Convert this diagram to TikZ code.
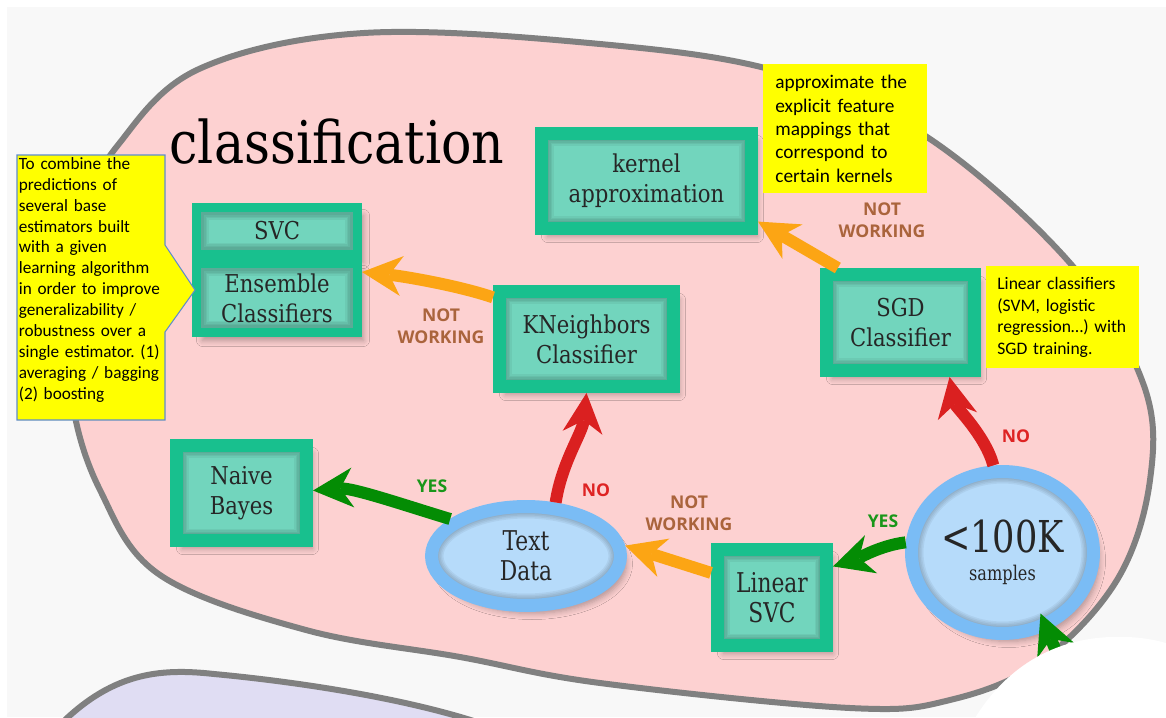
\documentclass[tikz,border=0pt]{standalone}
\usepackage{fontspec}
\newfontfamily\boxfont[FakeStretch=0.86]{DejaVu Serif}
\newfontfamily\ovalfont[FakeStretch=0.8]{DejaVu Serif}
\newfontfamily\notefont{Carlito}
\newfontfamily\tagfont{Open Sans}
\usetikzlibrary{arrows.meta, shapes.geometric, shadows.blur, calc}
\frenchspacing

\definecolor{backdrop}{RGB}{248,248,248}
\definecolor{pinkzone}{RGB}{253,209,209}
\definecolor{lilaczone}{RGB}{224,221,243}
\definecolor{blobgray}{RGB}{128,128,128}
\definecolor{boxedge}{RGB}{24,192,142}
\definecolor{boxfill}{RGB}{114,213,189}
\definecolor{ovaledge}{RGB}{122,188,245}
\definecolor{ovalfill}{RGB}{182,219,250}
\definecolor{noteyellow}{RGB}{255,255,0}
\definecolor{calloutedge}{RGB}{95,140,205}
\definecolor{floworange}{RGB}{252,165,20}
\definecolor{flowred}{RGB}{218,32,32}
\definecolor{flowgreen}{RGB}{4,140,4}
\definecolor{tagbrown}{RGB}{170,100,60}
\definecolor{tagred}{RGB}{222,35,35}
\definecolor{taggreen}{RGB}{25,150,25}

\tikzset{
  blobline/.style={draw=blobgray, line width=0.12cm},
  softshadow/.style={blur shadow={shadow xshift=0.12cm, shadow yshift=-0.16cm, shadow opacity=30,
      shadow blur steps=6, shadow blur radius=0.12cm}},
  boxshade/.style={path picture={\foreach \w in {0.30,0.36,0.42,0.48}
      \draw[black, opacity=0.05, line width=\w cm]
      (path picture bounding box.south west) rectangle (path picture bounding box.north east);}},
  ovalshade/.style={path picture={\foreach \w in {0.30,0.36,0.42,0.48}
      \draw[black, opacity=0.05, line width=\w cm]
      let \p1=($(path picture bounding box.north east)-(path picture bounding box.center)$) in
      (path picture bounding box.center) ellipse [x radius=\x1, y radius=\y1];}},
  algobox/.style={draw=boxedge, fill=boxfill, line width=0.26cm, inner sep=0pt, align=center,
    text=black!85, font=\boxfont\fontsize{14}{17}\selectfont, softshadow, boxshade},
  stackbox/.style={algobox, line width=0.18cm},
  ovalnode/.style={ellipse, draw=ovaledge, fill=ovalfill, line width=0.26cm, inner sep=0pt, align=center,
    text=black!85, font=\ovalfont\fontsize{15.5}{17}\selectfont, softshadow, ovalshade},
  notebox/.style={fill=noteyellow, anchor=north west, align=left, inner ysep=0pt},
  tag/.style={font=\tagfont\bfseries\fontsize{10}{12.5}\selectfont, align=center, inner sep=0pt},
  failtag/.style={tag, text=tagbrown},
  notag/.style={tag, text=tagred},
  yestag/.style={tag, text=taggreen},
  flow/.style={line width=0.24cm, -{Stealth[length=0.8cm, width=0.8cm, inset=0.25cm, line width=0pt]}},
  failflow/.style={flow, draw=floworange},
  noflow/.style={flow, draw=flowred},
  yesflow/.style={flow, draw=flowgreen}
}

\begin{document}
\begin{tikzpicture}[x=0.02cm, y=-0.02cm]
  \clip (0,0) rectangle (1166,717);
  % backdrop and the two areas
  \fill[white] (0,0) rectangle (1166,717);
  \fill[backdrop] (7,7) rectangle (1166,717);
  \filldraw[blobline, fill=pinkzone] plot[smooth cycle, tension=0.6] coordinates {
    (364,33) (600,44) (780,72) (927,137) (1070,263) (1143,383) (1150,480) (1117,580)
    (1040,662) (950,700) (850,708) (600,683) (460,657) (306,630) (160,575) (100,490)
    (72,400) (70,300) (85,210) (118,145) (199,69)};
  \filldraw[blobline, fill=lilaczone] (55,730) .. controls (110,672) and (160,668) .. (214,674)
    .. controls (300,682) and (420,700) .. (500,730) -- cycle;

  \node[font=\boxfont\fontsize{33.5}{34}\selectfont] (title) at (337,142) {classification};

  % estimators
  \node[algobox, minimum width=4.2cm, minimum height=1.9cm] (kernel) at (646.5,181) {kernel\\approximation};
  \node[stackbox, minimum width=3.22cm, minimum height=0.94cm] (svc) at (277,231) {SVC};
  \node[stackbox, minimum width=3.22cm, minimum height=1.38cm] (ens) at (277,298) {Ensemble\\Classifiers};
  \node[algobox, minimum width=3.48cm, minimum height=1.9cm] (knn) at (586.5,339) {KNeighbors\\Classifier};
  \node[algobox, minimum width=2.96cm, minimum height=1.92cm] (sgd) at (900.5,322.5) {SGD\\Classifier};
  \node[algobox, minimum width=2.6cm, minimum height=1.9cm] (nb) at (241.5,493) {Naive\\Bayes};
  \node[algobox, font=\ovalfont\fontsize{15.5}{17}\selectfont, minimum width=2.18cm, minimum height=1.92cm] (lsvc) at (772,597.5) {Linear\\SVC};

  % questions
  \node[ovalnode, minimum width=3.78cm, minimum height=1.98cm] (text) at (526,556) {Text\\Data};
  \node[ovalnode, minimum width=3.64cm, minimum height=3.24cm] (k100) at (1002.5,552.5)
    {{\fontsize{25}{26}\selectfont <100K}\\[-1pt]{\fontsize{11.5}{13}\selectfont samples}};

  % notes
  \filldraw[draw=calloutedge, fill=noteyellow, line width=0.6pt] (17,155) -- (165,155) -- (165,245)
    -- (195,290) -- (165,332) -- (165,420) -- (17,420) -- cycle;
  \node[notebox, fill=none, text width=3.2cm, inner xsep=0.03cm, font=\notefont\fontsize{9.8}{11.9}\selectfont] (ensnote) at (17,157)
    {To combine the\\predictions of\\several base\\estimators built\\with a given\\learning algorithm\\in order to improve\\generalizability /\\robustness over a\\single estimator. (1)\\averaging / bagging\\(2) boosting};
  \node[notebox, text width=2.8cm, inner xsep=0.24cm, minimum height=2.58cm, font=\notefont\fontsize{11}{13.3}\selectfont] (kernelnote) at (763,64)
    {approximate the\\explicit feature\\mappings that\\correspond to\\certain kernels};
  \node[notebox, text width=2.62cm, inner xsep=0.22cm, minimum height=2.04cm, font=\notefont\fontsize{10}{12.2}\selectfont] (sgdnote) at (986,266)
    {Linear classifiers\\(SVM, logistic\\regression…) with\\SGD training.};

  % answers
  \node[failtag] (fail1) at (441,326) {NOT\\WORKING};
  \node[failtag] (fail2) at (882,220) {NOT\\WORKING};
  \node[failtag] (fail3) at (689,513) {NOT\\WORKING};
  \node[notag] (no1) at (596,490) {NO};
  \node[notag] (no2) at (1016,436) {NO};
  \node[yestag] (yes1) at (432,486) {YES};
  \node[yestag] (yes2) at (883,521) {YES};

  % paths
  \draw[failflow] (knn.156) .. controls +(-35,-12) and +(40,4) .. (ens.17);
  \draw[failflow] (sgd.139) -- (kernel.-20);
  \draw[failflow] (lsvc.158) -- (text.6);
  \draw[noflow] (text.61) .. controls +(6,-40) and +(-4,40) .. (knn.south);
  \draw[noflow] (k100.96) .. controls +(-8,-30) and +(6,30) .. (sgd.-48);
  \draw[yesflow] (k100.174) .. controls +(-25,3) and +(25,-8) .. (lsvc.27);
  \draw[yesflow] (text.154) .. controls +(-40,-12) and +(40,-3) .. (nb.2);
  \coordinate (offstage) at (1076,700);
  \draw[yesflow, shorten >=-0.36cm] (offstage) -- (k100.-60);

  % white area over the corner
  \fill[white] (968,730) .. controls (995,680) and (1040,640) .. (1110,637)
    .. controls (1140,636) and (1160,640) .. (1180,648) -- (1180,730) -- cycle;
\end{tikzpicture}
\end{document}
